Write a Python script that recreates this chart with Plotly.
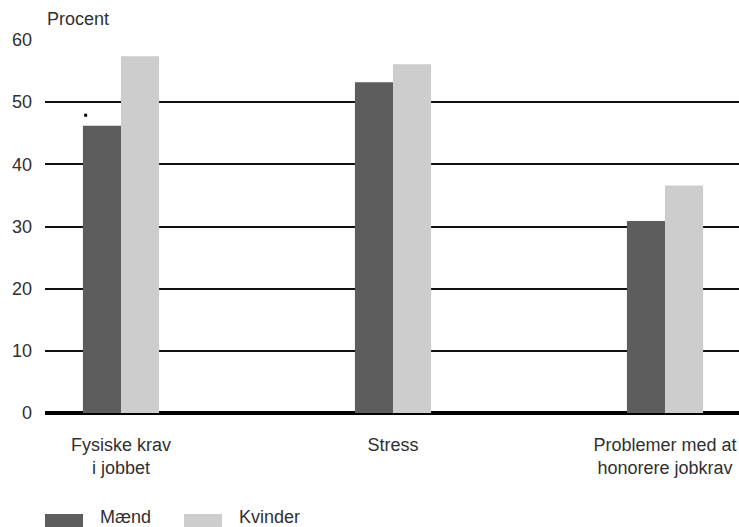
import plotly.graph_objects as go

categories = ["Fysiske krav<br>i jobbet", "Stress", "Problemer med at<br>honorere jobkrav"]
series_names = ["Mænd", "Kvinder"]
maend = [46.2, 53.2, 30.9]
kvinder = [57.4, 56.1, 36.6]
series_values = [maend, kvinder]
series_colors = ["#5d5d5d", "#cdcdcd"]
y_ticks = [0, 10, 20, 30, 40, 50, 60]
y_title = "Procent"
dot_category = 0
dot_value = 47.9

FONT = "Liberation Sans, Arial, sans-serif"
TXT = "#303030"
bar_w = 0.14
idx = list(range(len(categories)))

fig = go.Figure()
for s, (name, vals, col) in enumerate(zip(series_names, series_values, series_colors)):
    fig.add_trace(go.Bar(
        x=idx, y=vals, name=name, width=bar_w, offset=-bar_w + s * bar_w,
        marker=dict(color=col, line=dict(width=0)), showlegend=False,
    ))

fig.add_trace(go.Scatter(
    x=[dot_category - bar_w + 0.01], y=[dot_value], mode="markers",
    marker=dict(symbol="square", size=3, color="#000000", line=dict(width=0)),
    showlegend=False, hoverinfo="skip",
))

fig.update_layout(
    width=739, height=527,
    margin=dict(l=45, r=0, t=40, b=114),
    plot_bgcolor="white", paper_bgcolor="white",
    barmode="overlay",
    font=dict(family=FONT, size=18, color=TXT),
    xaxis=dict(
        range=[-0.2794, 2.272], tickvals=idx, ticktext=categories,
        showgrid=False, zeroline=False, showline=False, ticks="",
        ticklabelstandoff=19, tickfont=dict(size=18, color=TXT),
    ),
    yaxis=dict(
        range=[0, 60], tickvals=y_ticks, showgrid=True, gridcolor="#111111",
        gridwidth=1.6, zeroline=True, zerolinecolor="#000000", zerolinewidth=3.5,
        showline=False, ticks="", ticklabelstandoff=12,
        tickfont=dict(size=18, color=TXT),
    ),
)

fig.add_annotation(
    text=y_title, xref="paper", yref="paper", x=0, y=1, xanchor="left",
    yanchor="middle", yshift=21, showarrow=False,
    font=dict(size=18, color=TXT, family=FONT),
)

legend_x = [0, 139]
for i, (name, col) in enumerate(zip(series_names, series_colors)):
    fig.add_shape(
        type="rect", xref="paper", yref="paper", xsizemode="pixel", ysizemode="pixel",
        xanchor=0, yanchor=0, x0=legend_x[i], x1=legend_x[i] + 38, y0=-101, y1=-125,
        fillcolor=col, line=dict(width=0),
    )
    fig.add_annotation(
        text=name, xref="paper", yref="paper", x=0, y=0, xanchor="left",
        yanchor="middle", xshift=legend_x[i] + 53, yshift=-104, showarrow=False,
        font=dict(size=18, color=TXT, family=FONT),
    )

fig.write_html("out.html")
